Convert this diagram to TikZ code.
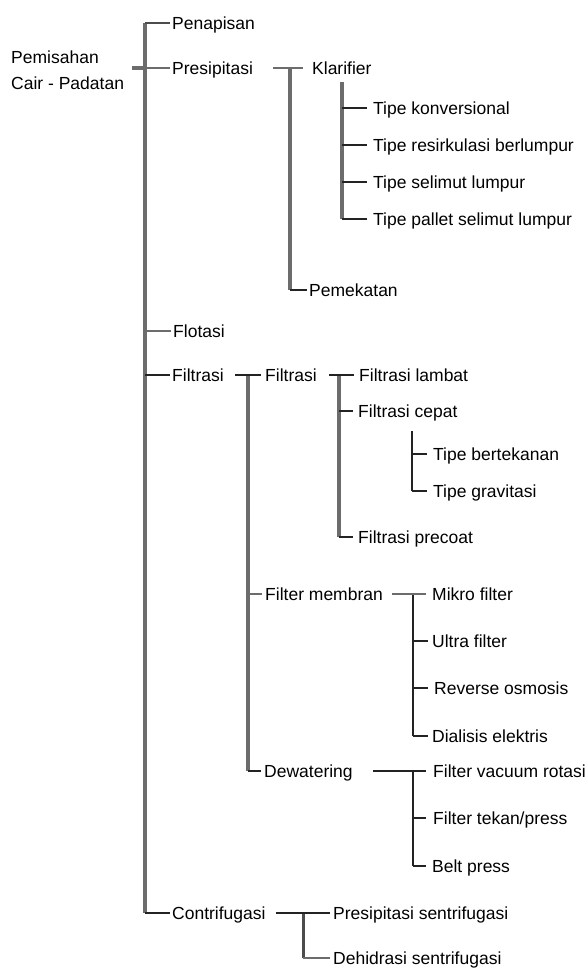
\documentclass[tikz,border=0pt]{standalone}
\usepackage{fontspec}
\setmainfont{Liberation Sans}
\definecolor{bargray}{RGB}{108,108,108}
\definecolor{tickdark}{RGB}{35,35,35}
\begin{document}
\begin{tikzpicture}[x=1pt,y=-1pt,
  lab/.style={anchor=west,inner sep=0pt,font=\fontsize{17.5}{21}\selectfont,text height=16pt,text depth=3.5pt,text=black},
  bar/.style={draw=bargray,line width=3.3pt},
  thin/.style={draw=tickdark,line width=2.2pt},
  gtick/.style={draw=bargray,line width=2.8pt}]
\useasboundingbox (0,0) rectangle (588,970);
% ---- texts
\node[anchor=north west,inner sep=0pt,align=left,font=\fontsize{17.5}{26}\selectfont,text=black] (root) at (11,50.5) {Pemisahan\\Cair - Padatan};
\node[lab] (penapisan) at (172,23) {Penapisan};
\node[lab] (presipitasi) at (172,68) {Presipitasi};
\node[lab] (klarifier) at (312,68) {Klarifier};
\node[lab] (t1) at (373,108) {Tipe konversional};
\node[lab] (t2) at (373,145) {Tipe resirkulasi berlumpur};
\node[lab] (t3) at (373,182) {Tipe selimut lumpur};
\node[lab] (t4) at (373,219) {Tipe pallet selimut lumpur};
\node[lab] (pemekatan) at (309,290) {Pemekatan};
\node[lab] (flotasi) at (173,331) {Flotasi};
\node[lab] (filtrasi) at (172,375) {Filtrasi};
\node[lab] (filtrasib) at (265,375) {Filtrasi};
\node[lab] (lambat) at (359,375) {Filtrasi lambat};
\node[lab] (cepat) at (358,411) {Filtrasi cepat};
\node[lab] (bertekanan) at (433,454) {Tipe bertekanan};
\node[lab] (gravitasi) at (433,491) {Tipe gravitasi};
\node[lab] (precoat) at (358,537) {Filtrasi precoat};
\node[lab] (membran) at (265,594) {Filter membran};
\node[lab] (mikro) at (432,594) {Mikro filter};
\node[lab] (ultra) at (432,641) {Ultra filter};
\node[lab] (reverse) at (434,688) {Reverse osmosis};
\node[lab] (dialisis) at (432,736) {Dialisis elektris};
\node[lab] (dewatering) at (264,771) {Dewatering};
\node[lab] (vacuum) at (433,771) {Filter vacuum rotasi};
\node[lab] (tekan) at (433,818) {Filter tekan/press};
\node[lab] (belt) at (432,866) {Belt press};
\node[lab] (contrifugasi) at (172,913) {Contrifugasi};
\node[lab] (psent) at (333,913) {Presipitasi sentrifugasi};
\node[lab] (dsent) at (333,958) {Dehidrasi sentrifugasi};
% ---- junction coordinates
\coordinate (m1) at (145,23);
\coordinate (m2) at (145,68);
\coordinate (m3) at (145,331);
\coordinate (m4) at (145,375);
\coordinate (m5) at (145,913);
\coordinate (rootstart) at (132,68);
\coordinate (p1) at (290,68);
\coordinate (p2) at (290,290);
\coordinate (pstart) at (273,68);
\coordinate (k0) at (342,82);
\coordinate (k1) at (342,108);
\coordinate (k2) at (342,145);
\coordinate (k3) at (342,182);
\coordinate (k4) at (342,219);
\coordinate (f0) at (235,375);
\coordinate (f1) at (248,375);
\coordinate (f2) at (248,594);
\coordinate (f3) at (248,771);
\coordinate (g0) at (329,375);
\coordinate (g1) at (339,375);
\coordinate (g2) at (339,411);
\coordinate (g3) at (339,537);
\coordinate (c0) at (412,431);
\coordinate (c1) at (412,454);
\coordinate (c2) at (412,491);
\coordinate (h0) at (392,594);
\coordinate (h1) at (413,594);
\coordinate (h2) at (413,641);
\coordinate (h3) at (413,688);
\coordinate (h4) at (413,736);
\coordinate (d0) at (373,771);
\coordinate (d1) at (413,771);
\coordinate (d2) at (413,818);
\coordinate (d3) at (413,866);
\coordinate (s0) at (276,913);
\coordinate (s1) at (303,913);
\coordinate (s2) at (303,958);
% ---- bars
\draw[bar] (m1) -- (m5);
\draw[bar] (rootstart) -- (m2);
\draw[bar] (p1) -- (p2);
\draw[bar] (k0) -- (k4);
\draw[bar] (f1) -- (f3);
\draw[bar] (g1) -- (g3);
\draw[thin,line width=2.7pt] (c0) -- (c2);
\draw[thin,line width=2.7pt] (h1) -- (h4);
\draw[thin,line width=2.7pt] (d1) -- (d3);
\draw[thin,draw=black!70,line width=3pt] (s1) -- (s2);
% ---- ticks level 1
\draw[thin,draw=black!70] (m1) -- ([xshift=-2pt]penapisan.west);
\draw[gtick] (m2) -- ([xshift=-2pt]presipitasi.west);
\draw[gtick] (m3) -- ([xshift=-2pt]flotasi.west);
\draw[thin] (m4) -- ([xshift=-2pt]filtrasi.west);
\draw[thin] (m5) -- ([xshift=-2pt]contrifugasi.west);
% presipitasi
\draw[gtick] (pstart) -- ([xshift=-9pt]klarifier.west);
\draw[thin] (p2) -- ([xshift=-2pt]pemekatan.west);
\draw[thin] (k1) -- ([xshift=-6pt]t1.west);
\draw[thin] (k2) -- ([xshift=-6pt]t2.west);
\draw[thin] (k3) -- ([xshift=-6pt]t3.west);
\draw[thin] (k4) -- ([xshift=-6pt]t4.west);
% filtrasi
\draw[thin] (f0) -- ([xshift=-4pt]filtrasib.west);
\draw[gtick] (f2) -- ([xshift=-3pt]membran.west);
\draw[thin] (f3) -- ([xshift=-3pt]dewatering.west);
\draw[thin] (g0) -- ([xshift=-5pt]lambat.west);
\draw[thin] (g2) -- ([xshift=-5pt]cepat.west);
\draw[thin] (g3) -- ([xshift=-5pt]precoat.west);
\draw[thin] (c1) -- ([xshift=-6pt]bertekanan.west);
\draw[thin] (c2) -- ([xshift=-6pt]gravitasi.west);
\draw[gtick] (h0) -- ([xshift=-6pt]mikro.west);
\draw[thin] (h2) -- ([xshift=-4pt]ultra.west);
\draw[thin] (h3) -- ([xshift=-6pt]reverse.west);
\draw[thin] (h4) -- ([xshift=-4pt]dialisis.west);
\draw[thin] (d0) -- ([xshift=-7pt]vacuum.west);
\draw[thin] (d2) -- ([xshift=-7pt]tekan.west);
\draw[thin] (d3) -- ([xshift=-6pt]belt.west);
\draw[thin] (s0) -- ([xshift=-3pt]psent.west);
\draw[gtick] (s2) -- ([xshift=-3pt]dsent.west);
\end{tikzpicture}
\end{document}
